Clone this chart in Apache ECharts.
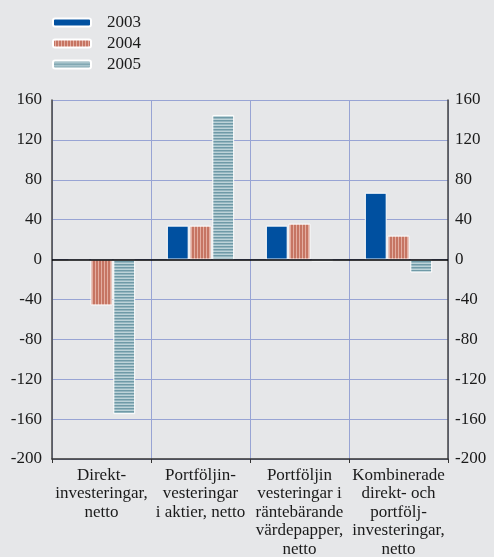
<!DOCTYPE html>
<html><head><meta charset="utf-8">
<script src="https://cdn.jsdelivr.net/npm/echarts@6/dist/echarts.min.js"></script>
<style>html,body{margin:0;padding:0;background:#e6e7e9}#c{width:494px;height:557px}</style>
</head><body><div id="c"></div>
<script>
const categories = [
  "Direkt-\ninvesteringar,\nnetto",
  "Portföljin-\nvesteringar\ni aktier, netto",
  "Portföljin\nvesteringar i\nräntebärande\nvärdepapper,\nnetto",
  "Kombinerade\ndirekt- och\nportfölj-\ninvesteringar,\nnetto"
];
const seriesNames = ["2003", "2004", "2005"];
const values2003 = [-1.5, 34, 34, 67];
const values2004 = [-46, 34, 36, 24];
const values2005 = [-155, 145, -2, -13];
const yTicks = { min: -200, max: 160, interval: 40 };

function stripes(vertical, dark, light) {
  const c = document.createElement('canvas');
  c.width = 3; c.height = 3;
  const g = c.getContext('2d');
  g.fillStyle = light; g.fillRect(0, 0, 3, 3);
  g.fillStyle = dark;
  if (vertical) g.fillRect(0, 0, 2, 3); else g.fillRect(0, 0, 3, 1.5);
  return { image: c, repeat: 'repeat' };
}
const fills = [
  '#0050a0',
  stripes(true, '#c67563', '#e3ada0'),
  stripes(false, '#6f9aa7', '#bcd2d8')
];
const font = 'Liberation Serif';
const chart = echarts.init(document.getElementById('c'));
const datas = [values2003, values2004, values2005];
chart.setOption({
  backgroundColor: '#e6e7e9',
  animation: false,
  legend: {
    orient: 'vertical', left: 47, top: 9,
    itemWidth: 38, itemHeight: 8, itemGap: 4,
    textStyle: { fontFamily: font, fontSize: 17, color: '#1a1a1a', padding: [0, 0, 0, 11], lineHeight: 17 },
    data: seriesNames
  },
  grid: { left: 52, right: 46, top: 100, bottom: 98, containLabel: false, outerBoundsMode: 'none' },
  xAxis: {
    type: 'category', data: categories,
    axisLine: { onZero: false, lineStyle: { color: '#333', width: 1.5 } },
    axisTick: { show: true, length: 4, inside: false, lineStyle: { color: '#333' } },
    axisLabel: { interval: 0, fontFamily: font, fontSize: 17, color: '#1a1a1a', lineHeight: 18.5, margin: 7 },
    splitLine: { show: true, interval: 0, lineStyle: { color: '#98a4d4', width: 1 } }
  },
  yAxis: [
    { type: 'value', min: yTicks.min, max: yTicks.max, interval: yTicks.interval, position: 'left',
      axisLine: { show: true, lineStyle: { color: '#444', width: 1.5 } }, axisTick: { show: false },
      axisLabel: { fontFamily: font, fontSize: 17, color: '#1a1a1a', margin: 10 },
      splitLine: { lineStyle: { color: '#98a4d4', width: 1 } } },
    { type: 'value', min: yTicks.min, max: yTicks.max, interval: yTicks.interval, position: 'right',
      axisLine: { show: true, lineStyle: { color: '#444', width: 1.5 } }, axisTick: { show: false },
      axisLabel: { fontFamily: font, fontSize: 17, color: '#1a1a1a', margin: 7, align: 'left' },
      splitLine: { show: false } }
  ],
  series: seriesNames.map((n, i) => ({
    name: n, type: 'bar', data: datas[i],
    barGap: '4%', barCategoryGap: '32%',
    itemStyle: { color: fills[i], borderColor: '#ffffff', borderWidth: 1 },
    markLine: i === 0 ? { silent: true, symbol: 'none', label: { show: false },
      lineStyle: { color: '#000', width: 1.5, type: 'solid' }, data: [{ yAxis: 0 }] } : undefined,
    z: 3
  }))
});
</script></body></html>
